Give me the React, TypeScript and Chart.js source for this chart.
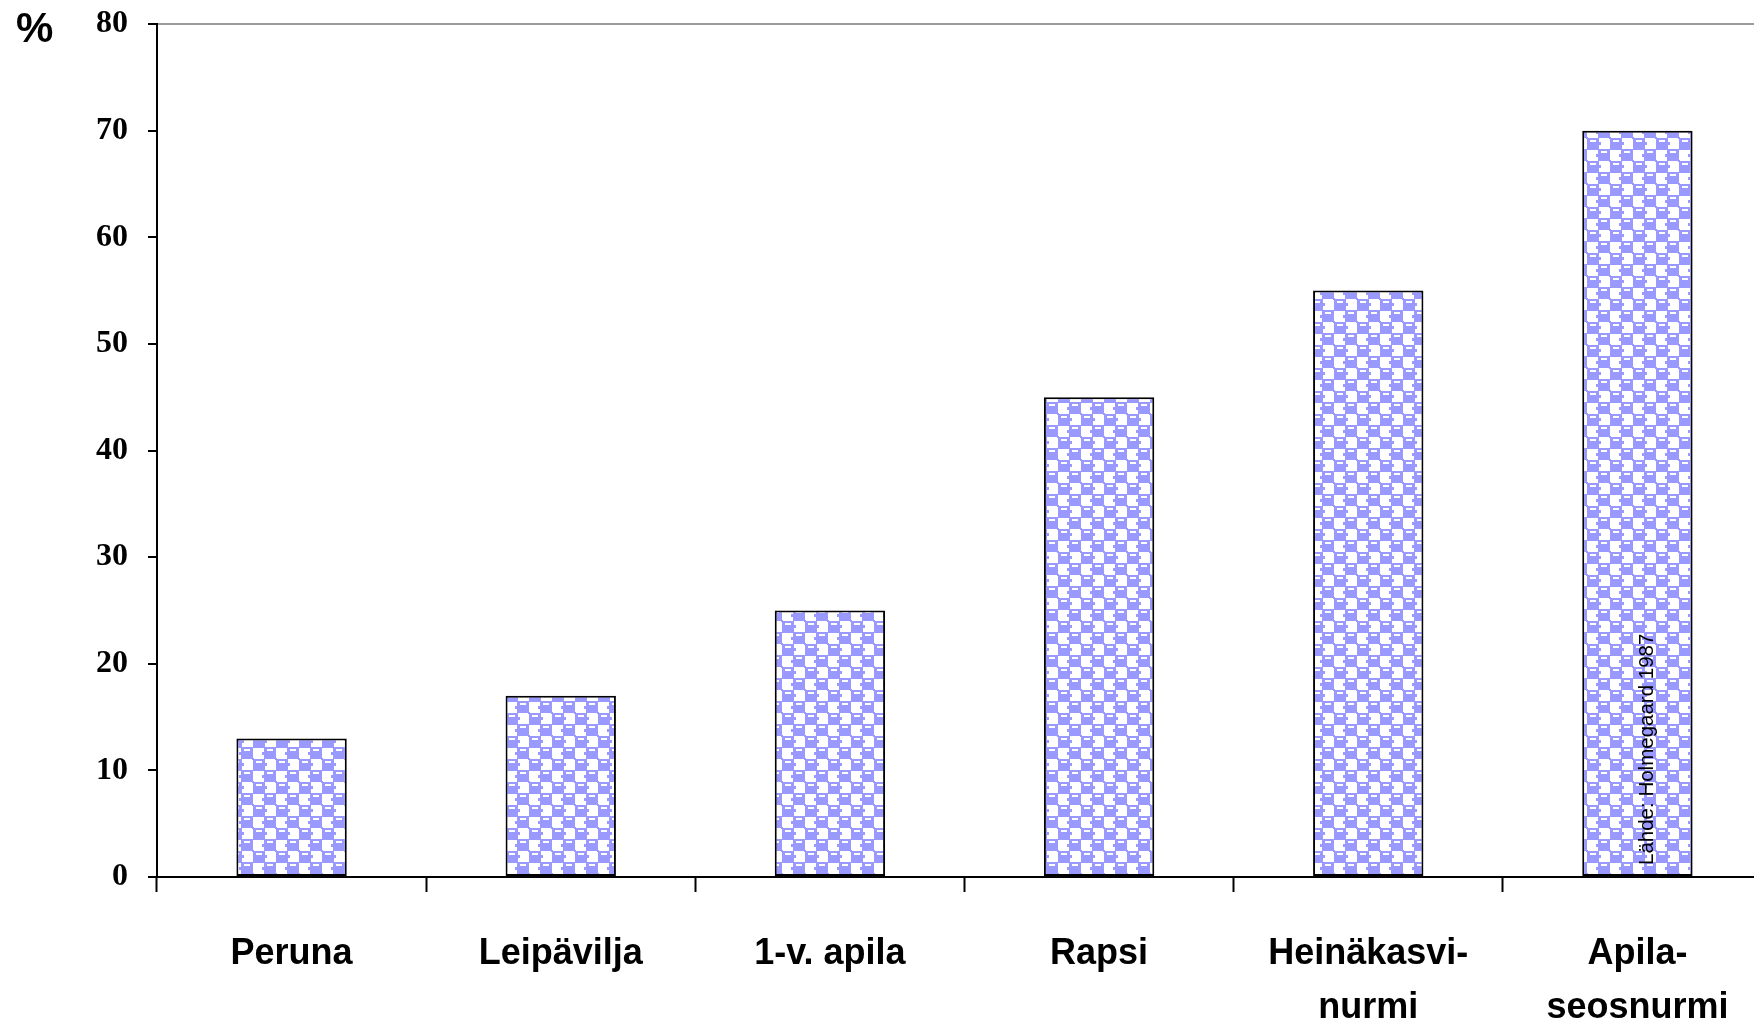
import React, { useEffect, useRef } from "react";
import { Chart, registerables } from "chart.js";

Chart.register(...registerables);

const categories: (string | string[])[] = [
  "Peruna",
  "Leipävilja",
  "1-v. apila",
  "Rapsi",
  ["Heinäkasvi-", "nurmi"],
  ["Apila-", "seosnurmi"],
];
const values = [13, 17, 25, 45, 55, 70];
const yMin = 0;
const yMax = 80;
const yStep = 10;
const yUnit = "%";
const sourceNote = "Lähde: Holmegaard 1987";

function makePattern(): CanvasPattern | string {
  const s = 23;
  const c = document.createElement("canvas");
  c.width = s;
  c.height = s;
  const g = c.getContext("2d");
  if (!g) return "#9999ff";
  g.fillStyle = "#ffffff";
  g.fillRect(0, 0, s, s);
  g.fillStyle = "#9999ff";
  g.fillRect(0, 0, 12, 12);
  g.fillRect(11, 11, 12, 12);
  g.fillRect(0, 22, 1, 1);
  g.fillRect(22, 0, 1, 1);
  // small connectors
  g.fillRect(12, 4, 2, 3);
  g.fillRect(9, 16, 2, 3);
  g.fillStyle = "#ffffff";
  g.fillRect(3, 2, 6, 2);
  g.fillRect(14, 13, 6, 2);
  return g.createPattern(c, "repeat") || "#9999ff";
}

const notePlugin = {
  id: "notePlugin",
  afterDatasetsDraw(chart: any) {
    const xs = chart.scales.x;
    const ys = chart.scales.y;
    const ctx = chart.ctx;
    const x = xs.getPixelForValue(values.length - 1) + 10;
    const y = ys.getPixelForValue(0) - 12;
    ctx.save();
    ctx.translate(x, y);
    ctx.rotate(-Math.PI / 2);
    ctx.font = "20.5px 'Liberation Sans', Arial, sans-serif";
    ctx.fillStyle = "#000";
    ctx.textAlign = "left";
    ctx.textBaseline = "middle";
    ctx.fillText(sourceNote, 0, 0);
    ctx.restore();
  },
};

export default function App() {
  const ref = useRef<HTMLCanvasElement | null>(null);
  useEffect(() => {
    if (!ref.current) return;
    const chart = new Chart(ref.current, {
      type: "bar",
      data: {
        labels: categories as any,
        datasets: [
          {
            data: values,
            backgroundColor: makePattern() as any,
            borderColor: "#000",
            borderWidth: 2,
            borderSkipped: false,
            barPercentage: 0.41,
            categoryPercentage: 1,
          },
        ],
      },
      options: {
        responsive: false,
        animation: false,
        layout: { padding: { top: 24, left: 0, right: 0, bottom: 0 } },
        plugins: { legend: { display: false }, tooltip: { enabled: false } },
        scales: {
          x: {
            offset: true,
            grid: {
              offset: true,
              color: "transparent",
              tickColor: "#000",
              tickWidth: 2,
              tickLength: 15,
              drawTicks: true,
            },
            border: { display: true, color: "#000", width: 2 },
            ticks: {
              color: "#000",
              padding: 35,
              maxRotation: 0,
              autoSkip: false,
              font: { family: "'Liberation Sans', Arial, sans-serif", size: 36, weight: "bold", lineHeight: "54px" } as any,
            },
            afterFit: (s: any) => {
              s.height = 150;
              s.paddingLeft = 0;
              s.paddingRight = 0;
            },
          },
          y: {
            min: yMin,
            max: yMax,
            grid: {
              color: (c: any) => (c.tick && c.tick.value === yMax ? "#9a9a9a" : "transparent"),
              lineWidth: 2,
              tickColor: "#000",
              tickWidth: 2,
              tickLength: 9,
              drawTicks: true,
            },
            border: { display: true, color: "#000", width: 2 },
            ticks: {
              stepSize: yStep,
              color: "#000",
              padding: 20,
              font: { family: "'Liberation Serif', 'Times New Roman', serif", size: 32, weight: "bold" },
            },
            afterFit: (s: any) => {
              s.width = 157;
              s.paddingTop = 0;
              s.paddingBottom = 0;
            },
          },
        },
      },
      plugins: [notePlugin],
    });
    return () => chart.destroy();
  }, []);
  return (
    <div
      style={{
        position: "fixed",
        left: 0,
        top: 0,
        width: 1754,
        height: 1027,
        overflow: "hidden",
        background: "#fff",
      }}
    >
      <div
        style={{
          position: "absolute",
          left: 16,
          top: 7,
          fontFamily: "'Liberation Sans', Arial, sans-serif",
          fontWeight: "bold",
          fontSize: 42,
          lineHeight: 1,
          color: "#000",
        }}
      >
        {yUnit}
      </div>
      <canvas ref={ref} width={1772} height={1027} style={{ display: "block", width: 1772, height: 1027 }} />
    </div>
  );
}
